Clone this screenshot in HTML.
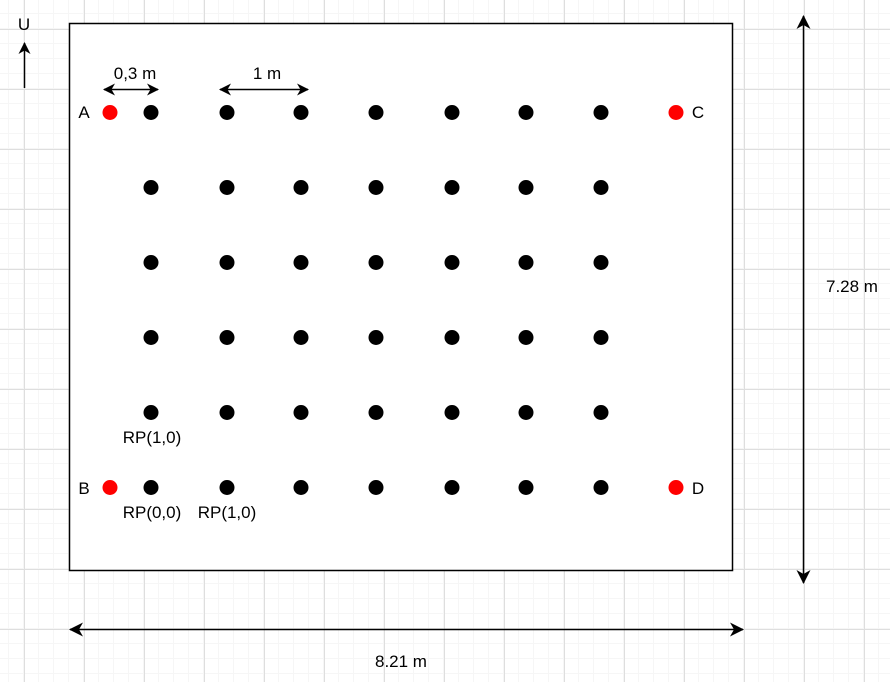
<!DOCTYPE html>
<html><head><meta charset="utf-8"><style>
html,body{margin:0;padding:0;background:#fff}
svg{display:block}
svg text{font-family:"Liberation Sans",Arial,sans-serif;font-size:17px;fill:#000}
</style></head><body>
<svg id="s" width="890" height="682" viewBox="0 0 890 682" xmlns="http://www.w3.org/2000/svg">
<defs>
<pattern id="minor" x="9" y="14" width="15" height="15" patternUnits="userSpaceOnUse"><path d="M14.5 0V15M0 14.5H15" stroke="#f6f6f6" stroke-width="1" fill="none"/></pattern>
<pattern id="major" x="24" y="29" width="60" height="60" patternUnits="userSpaceOnUse"><path d="M0.5 0V60M0 0.5H60" stroke="#dedede" stroke-width="1" fill="none"/></pattern>
<marker id="ah" markerWidth="12" markerHeight="12" refX="11" refY="6" orient="auto-start-reverse" markerUnits="userSpaceOnUse"><path d="M0,0 L12,6 L0,12 L3.5,6 Z" fill="#000"/></marker>
<marker id="ahs" markerWidth="14" markerHeight="14" refX="13" refY="7" orient="auto-start-reverse" markerUnits="userSpaceOnUse"><path d="M0,0 L14,7 L0,14 L4,7 Z" fill="#000"/></marker>
</defs>
<rect width="890" height="682" fill="url(#minor)"/>
<rect width="890" height="682" fill="url(#major)"/>
<rect x="69.5" y="23.5" width="663" height="547" fill="#fff" stroke="#000" stroke-width="1.5"/>
<line x1="24.5" y1="88" x2="24.5" y2="43" stroke="#000" stroke-width="1.5" marker-end="url(#ah)"/>
<text x="24" y="30" text-anchor="middle">U</text>
<line x1="104" y1="89.5" x2="158" y2="89.5" stroke="#000" stroke-width="1.5" marker-start="url(#ah)" marker-end="url(#ah)"/>
<text x="135" y="79" text-anchor="middle">0,3 m</text>
<line x1="220" y1="89.5" x2="308" y2="89.5" stroke="#000" stroke-width="1.5" marker-start="url(#ah)" marker-end="url(#ah)"/>
<text x="267" y="79" text-anchor="middle">1 m</text>
<line x1="803.5" y1="16" x2="803.5" y2="583" stroke="#000" stroke-width="1.5" marker-start="url(#ahs)" marker-end="url(#ahs)"/>
<text x="852" y="292" text-anchor="middle">7.28 m</text>
<line x1="70" y1="629.5" x2="743" y2="629.5" stroke="#000" stroke-width="1.5" marker-start="url(#ahs)" marker-end="url(#ahs)"/>
<text x="401" y="667" text-anchor="middle">8.21 m</text>
<g id="pts"></g>
<text x="84" y="118" text-anchor="middle">A</text>
<text x="84" y="494" text-anchor="middle">B</text>
<text x="698" y="118" text-anchor="middle">C</text>
<text x="698" y="494" text-anchor="middle">D</text>
<text x="152" y="443" text-anchor="middle">RP(1,0)</text>
<text x="152" y="518" text-anchor="middle">RP(0,0)</text>
<text x="227" y="518" text-anchor="middle">RP(1,0)</text>
</svg>
<script>
const colX = [151, 227, 301, 376, 452, 526, 601];
const rowY = [112, 187, 262, 337, 412, 487];
const anchorX = [110, 110, 676, 676];
const anchorY = [112, 487, 112, 487];
const g = document.getElementById('pts');
const NS = 'http://www.w3.org/2000/svg';
rowY.forEach((y, r) => colX.forEach((x, c) => {
  const e = document.createElementNS(NS, 'circle');
  e.setAttribute('cx', x); e.setAttribute('cy', y + 0.5); e.setAttribute('r', 7.5); e.setAttribute('fill', '#000');
  
  
  g.appendChild(e);
}));
anchorX.forEach((x, i) => {
  const e = document.createElementNS(NS, 'circle');
  e.setAttribute('cx', x); e.setAttribute('cy', anchorY[i] + 0.5); e.setAttribute('r', 7.5); e.setAttribute('fill', '#ff0000');
  
  
  g.appendChild(e);
});
</script>
</body></html>
